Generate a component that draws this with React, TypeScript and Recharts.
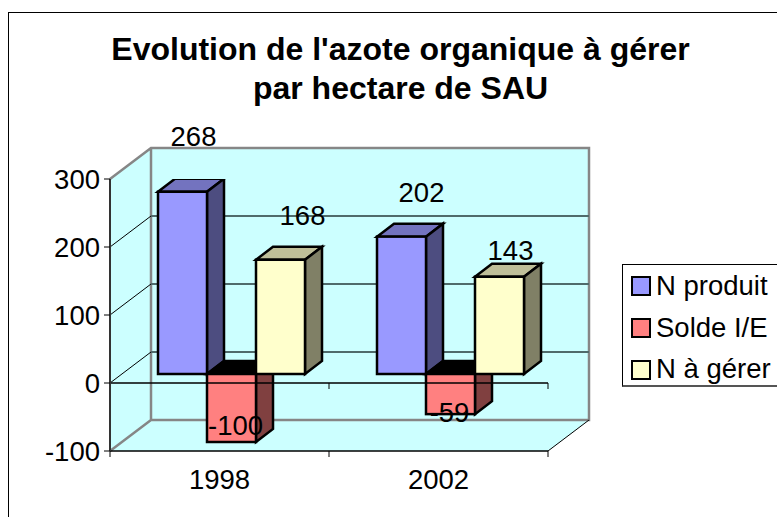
import React from 'react';
import { ComposedChart, Bar, XAxis, YAxis, Legend, LabelList, ReferenceLine, Customized, CartesianGrid } from 'recharts';

const categories = ['1998', '2002'];
const nProduit = [268, 202];
const soldeIE = [-100, -59];
const nAGerer = [168, 143];
const yTicks = [-100, 0, 100, 200, 300];
const titleLines = ["Evolution de l'azote organique à gérer", 'par hectare de SAU'];

const data = categories.map((c, i) => ({ cat: c, p: nProduit[i], s: soldeIE[i], g: nAGerer[i] }));

const FONT = '"Liberation Sans", Arial, sans-serif';
const FS = 27.5;
const W = 777, H = 517;
const LEFT = 110, RIGHT = 548, TOP = 179, BOTTOM = 451;
const WX = 41, WY = -31;           // wall depth
const FX = 12, FY = -9;            // bar front-plane shift
const DX = 17, DY = -13;           // bar depth
const WALL = '#CCFFFF', EDGE = '#868686';

const styles = {
  p: { name: 'N produit', front: '#9999FF', side: '#4D4D80', top: '#7373BF', nudge: [[11, -56], [20, -45]] },
  s: { name: 'Solde I/E', front: '#FF8080', side: '#804040', top: '#000000', nudge: [[4, -17], [-1, -2]] },
  g: { name: 'N à gérer', front: '#FFFFCC', side: '#808066', top: '#BFBF99', nudge: [[22, -45], [11, -27]] },
};
type Key = keyof typeof styles;

const box3d = (st: (typeof styles)[Key]) => (props: any) => {
  const { x, y, width, height } = props;
  const yA = Math.min(y, y + height) + FY;
  const h = Math.abs(height);
  const l = x + FX;
  const r = l + width;
  const common = { stroke: '#000', strokeWidth: 2.5, strokeLinejoin: 'miter' as const };
  return (
    <g>
      <polygon points={`${l},${yA} ${l + DX},${yA + DY} ${r + DX},${yA + DY} ${r},${yA}`} fill={st.top} {...common} />
      <polygon points={`${r},${yA} ${r + DX},${yA + DY} ${r + DX},${yA + h + DY} ${r},${yA + h}`} fill={st.side} {...common} />
      <rect x={l} y={yA} width={width} height={h} fill={st.front} {...common} />
    </g>
  );
};

const label3d = (st: (typeof styles)[Key]) => (props: any) => {
  const { x, y, width, height, value, index } = props;
  const neg = value < 0;
  const end = (neg ? Math.max(y, y + height) : Math.min(y, y + height)) + FY;
  const [nx, ny] = st.nudge[index];
  return (
    <text x={x + FX + width / 2 + nx} y={end + ny} dy="0.36em" textAnchor="middle" fontFamily={FONT} fontSize={FS} fill="#000">
      {value}
    </text>
  );
};

const Backdrop = () => (
  <svg width={W} height={H} style={{ position: 'absolute', left: 0, top: 0 }}>
    <rect x={8.5} y={12.5} width={W + 20} height={H + 20} fill="#fff" stroke="#000" strokeWidth={1} />
    <polygon points={`${LEFT},${TOP} ${LEFT + WX},${TOP + WY} ${LEFT + WX},${BOTTOM + WY} ${LEFT},${BOTTOM}`} fill={WALL} />
    <rect x={LEFT + WX} y={TOP + WY} width={RIGHT - LEFT} height={BOTTOM - TOP} fill={WALL} />
    <polygon points={`${LEFT},${BOTTOM} ${LEFT + WX},${BOTTOM + WY} ${RIGHT + WX},${BOTTOM + WY} ${RIGHT},${BOTTOM}`} fill={WALL} />
    <path d={`M${LEFT},${TOP} L${LEFT + WX},${TOP + WY} H${RIGHT + WX} V${BOTTOM + WY} H${LEFT + WX} V${TOP + WY} M${LEFT},${BOTTOM} L${LEFT + WX},${BOTTOM + WY}`}
      fill="none" stroke={EDGE} strokeWidth={2.5} />
    <line x1={RIGHT} y1={BOTTOM} x2={RIGHT + WX} y2={BOTTOM + WY} stroke="#000" strokeWidth={1} />
  </svg>
);

const Title = () => (
  <g>
    {titleLines.map((t, i) => (
      <text key={t} x={400.5} y={60 + i * 39} textAnchor="middle" fontFamily={FONT} fontSize={32} fontWeight={700} fill="#000">{t}</text>
    ))}
  </g>
);

const gridLine = (props: any) => {
  const { x1, x2, y1, key } = props;
  if (Math.abs(y1 - BOTTOM) < 1 || Math.abs(y1 - TOP) < 1) return <g key={key} />;
  return (
    <g key={key}>
      <line x1={x1} y1={y1} x2={x1 + WX} y2={y1 + WY} stroke="#000" strokeWidth={1} />
      <line x1={x1 + WX} y1={y1 + WY} x2={x2 + WX} y2={y1 + WY} stroke="#4F6B6B" strokeWidth={2} />
    </g>
  );
};

const xTick = (props: any) => {
  const { x, y, payload } = props;
  return (
    <g>
      <text x={x} y={y + 20} dy="0.36em" textAnchor="middle" fontFamily={FONT} fontSize={FS} fill="#000">{payload.value}</text>
    </g>
  );
};

const ZeroLine = (props: any) => {
  const { x1, x2, y1 } = props;
  const x = [(LEFT + RIGHT) / 2, RIGHT];
  return (
    <g>
      <line x1={x1} y1={y1} x2={x2} y2={y1} stroke="#000" strokeWidth={1.5} />
      {x.map(v => <line key={v} x1={v} x2={v} y1={y1} y2={y1 + 6} stroke="#000" />)}
    </g>
  );
};

const BottomTicks = () => (
  <g>
    {[LEFT, (LEFT + RIGHT) / 2, RIGHT].map(v => <line key={v} x1={v} x2={v} y1={BOTTOM} y2={BOTTOM + 6} stroke="#000" />)}
  </g>
);

const legendKeys: Key[] = ['p', 's', 'g'];
const LegendBox = () => (
  <div style={{ position: 'relative', width: 180, height: 123, borderTop: '1px solid #000', borderLeft: '1px solid #000', borderBottom: '2px solid #555', background: '#fff', boxSizing: 'border-box', fontFamily: FONT, fontSize: FS, color: '#000' }}>
    {legendKeys.map((k, i) => (
      <div key={k}>
        <div style={{ position: 'absolute', left: 8, top: 11 + i * 42, width: 20, height: 20, background: styles[k].front, border: '2.5px solid #000', boxSizing: 'border-box' }} />
        <div style={{ position: 'absolute', left: 33, top: 4 + i * 41.5, lineHeight: '34px', whiteSpace: 'nowrap' }}>{styles[k].name}</div>
      </div>
    ))}
  </div>
);

export default function App() {
  return (
    <div style={{ position: 'absolute', left: 0, top: 0, width: W, height: H, overflow: 'hidden' }}>
      <Backdrop />
      <ComposedChart width={W} height={H} data={data} barSize={49} barGap={0}
        margin={{ top: TOP, left: LEFT - 70, right: W - RIGHT, bottom: H - BOTTOM - 40 }}>
        <CartesianGrid vertical={false} horizontal={gridLine} />
        <Customized component={Title} />
        <XAxis dataKey="cat" height={40} axisLine={{ stroke: '#000', strokeWidth: 1.5 }} tickLine={false} tick={xTick} />
        <YAxis width={70} domain={[-100, 300]} ticks={yTicks} allowDataOverflow interval={0} tickSize={6} tickMargin={4}
          axisLine={{ stroke: '#333', strokeWidth: 2 }} tickLine={{ stroke: '#000' }}
          tick={{ fontFamily: FONT, fontSize: FS, fill: '#000' }} />
        <Customized component={BottomTicks} />
        {legendKeys.map(k => (
          <Bar key={k} dataKey={k} name={styles[k].name} isAnimationActive={false} shape={box3d(styles[k])}>
            <LabelList dataKey={k} content={label3d(styles[k])} />
          </Bar>
        ))}
        <ReferenceLine y={0} shape={ZeroLine} />
        <Legend layout="vertical" align="center" verticalAlign="middle" content={<LegendBox />}
          wrapperStyle={{ left: 622, top: 264, width: 180, height: 123, right: 'auto', bottom: 'auto' }} />
      </ComposedChart>
    </div>
  );
}
